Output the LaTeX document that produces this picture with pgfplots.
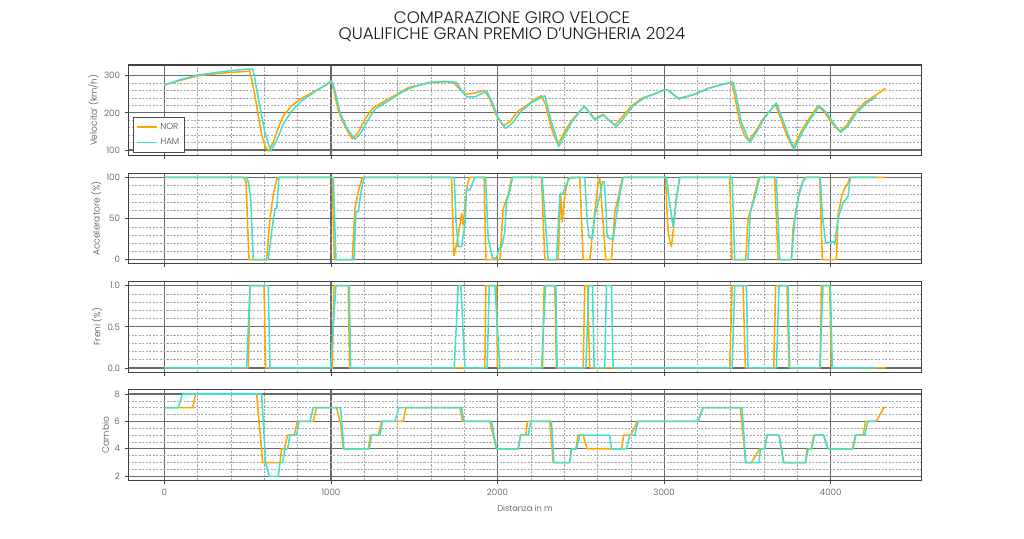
\documentclass[border=0pt]{standalone}
\usepackage{fontspec}
\IfFontExistsTF{Poppins Light}{\setmainfont{Poppins Light}}{\setmainfont{Poppins}}
\usepackage{pgfplots}
\pgfplotsset{compat=1.18}
\definecolor{nor}{HTML}{FFA500}
\definecolor{ham}{HTML}{40E0D0}
\definecolor{majg}{HTML}{6A6A6A}
\definecolor{ming}{HTML}{A8A8A8}
\pgfplotsset{
 panel/.style={scale only axis, width=571.25pt, height=65.16pt, xmin=-216.5, xmax=4546.5,
  xtick={0,1000,2000,3000,4000}, minor x tick num=4,
  grid=both, major grid style={majg, line width=0.85pt},
  minor grid style={ming, line width=0.4pt, dash pattern=on 1.5pt off 1pt},
  axis line style={draw=black!75, line width=0.75pt},
  tick align=outside, tick pos=left, major tick length=2.5pt, minor tick length=0pt,
  tick style={black!70, line width=0.6pt},
  ticklabel style={font=\fontsize{6.3}{7}\selectfont, text=black!70},
  label style={font=\fontsize{6}{7}\selectfont, text=black!70},
  ylabel style={font=\fontsize{6.5}{7}\selectfont},
  ylabel shift=-3pt,
  /pgf/number format/assume math mode=true, /pgf/number format/1000 sep={},
  every axis plot/.append style={line width=1.1pt, line join=round},
  anchor=north west},
}
\begin{document}
\begin{tikzpicture}
\path[use as bounding box] (0,0) rectangle (737.28pt,388.08pt);
\node[font=\fontsize{12}{14}\selectfont, text=black!90] at (368.64pt,375.6pt) {COMPARAZIONE GIRO VELOCE};
\node[font=\fontsize{12}{14}\selectfont, text=black!90] at (368.64pt,362.9pt) {QUALIFICHE GRAN PREMIO D'UNGHERIA 2024};

% Speed
\begin{axis}[panel, at={(92.38pt,341.28pt)}, ymin=85, ymax=329, ytick={100,200,300}, minor y tick num=4,
  xticklabels={}, ylabel={Velocita' (km/h)},
  legend style={at={(0.006,0.425)}, anchor=north west, draw=black!70, line width=0.6pt, fill=white,
   font=\fontsize{6.3}{7}\selectfont, text=black!70, cells={anchor=west}, row sep=1pt, inner sep=2pt},
  legend image code/.code={\draw[#1] (0cm,0cm) -- (0.5cm,0cm);}]
\addplot[nor] coordinates {(0,275) (100,288) (200,300) (300,305) (400,309) (500,312) (512,313) (524,291) (544,246) (564,192) (584,142) (604,111) (624,97) (654,120) (684,160) (714,192) (764,219) (824,239) (904,259) (964,273) (1004,285) (1024,246) (1044,205) (1074,174) (1104,147) (1128,130) (1164,147) (1204,183) (1254,214) (1324,232) (1424,257) (1464,268) (1584,280) (1684,284) (1734,282) (1804,250) (1864,253) (1920,261) (1954,237) (1994,192) (2034,165) (2074,176) (2124,205) (2184,223) (2224,237) (2264,246) (2290,220) (2314,174) (2344,133) (2364,115) (2394,142) (2444,179) (2494,205) (2520,217) (2554,201) (2584,183) (2610,190) (2634,196) (2674,178) (2704,167) (2754,192) (2804,219) (2874,241) (2934,250) (3000,262) (3020,262) (3088,239) (3184,250) (3264,266) (3344,276) (3404,282) (3424,246) (3454,174) (3484,138) (3508,125) (3544,147) (3594,183) (3634,205) (3668,223) (3694,192) (3734,142) (3774,106) (3824,151) (3874,187) (3924,219) (3964,201) (4004,174) (4054,151) (4094,165) (4144,201) (4204,228) (4264,246) (4330,266)};
\addlegendentry{NOR}
\addplot[ham] coordinates {(0,275) (100,290) (200,302) (300,308) (400,314) (500,318) (530,318) (540,300) (554,264) (580,201) (604,147) (638,97) (674,125) (714,170) (764,205) (824,232) (904,257) (964,274) (1004,286) (1024,260) (1054,201) (1094,160) (1144,129) (1174,142) (1214,174) (1264,210) (1344,232) (1424,255) (1484,268) (1584,282) (1684,285) (1754,282) (1784,260) (1814,243) (1864,243) (1934,259) (1964,232) (2004,187) (2048,158) (2084,170) (2144,205) (2204,228) (2284,246) (2324,174) (2344,147) (2368,109) (2394,131) (2444,174) (2520,219) (2584,181) (2634,194) (2714,163) (2764,189) (2814,219) (2884,241) (3000,261) (3020,262) (3088,237) (3184,250) (3264,266) (3344,276) (3414,283) (3434,246) (3464,174) (3514,120) (3554,147) (3604,187) (3674,226) (3704,192) (3744,142) (3780,102) (3834,151) (3884,187) (3934,219) (3974,201) (4014,174) (4060,147) (4104,165) (4154,199) (4214,226) (4274,243)};
\addlegendentry{HAM}
\end{axis}

% Throttle
\begin{axis}[panel, at={(92.38pt,263.30pt)}, ymin=-5, ymax=105, ytick={0,50,100}, minor y tick num=4,
  xticklabels={}, ylabel={Acceleratore (\%)}]
\addplot[nor] coordinates {(0,100) (474,100) (490,95) (508,0) (614,0) (634,50) (654,79) (674,97) (684,100) (1008,100) (1020,0) (1128,0) (1144,62) (1164,83) (1184,97) (1190,100) (1724,100) (1738,5) (1754,18) (1774,42) (1784,56) (1794,42) (1804,66) (1814,85) (1830,100) (1920,100) (1930,0) (2014,0) (2034,62) (2064,79) (2084,99) (2090,100) (2264,100) (2284,0) (2364,0) (2378,81) (2388,46) (2404,78) (2424,99) (2494,100) (2514,0) (2554,0) (2584,58) (2604,93) (2614,99) (2650,0) (2684,0) (2704,58) (2724,75) (2750,100) (3008,100) (3024,34) (3034,22) (3044,16) (3054,34) (3074,75) (3094,100) (3394,100) (3408,0) (3490,0) (3504,50) (3534,71) (3564,97) (3570,100) (3664,100) (3684,0) (3764,0) (3774,38) (3794,62) (3814,85) (3844,100) (3934,100) (3950,0) (4034,0) (4044,54) (4064,75) (4084,87) (4104,93) (4114,100) (4330,100)};
\addplot[ham] coordinates {(0,100) (490,100) (504,95) (518,75) (534,0) (624,0) (644,34) (664,62) (674,62) (688,100) (1014,100) (1030,0) (1138,0) (1150,58) (1164,58) (1178,79) (1198,100) (1740,100) (1750,50) (1764,16) (1784,16) (1804,42) (1814,85) (1834,85) (1864,100) (1928,100) (1944,26) (1970,2) (1994,2) (2010,14) (2024,15) (2044,34) (2054,71) (2074,83) (2090,100) (2268,100) (2284,54) (2304,0) (2354,0) (2374,79) (2394,81) (2410,90) (2434,100) (2524,100) (2538,46) (2550,27) (2570,26) (2584,54) (2614,77) (2630,95) (2640,95) (2650,67) (2658,28) (2674,26) (2694,24) (2714,54) (2734,79) (2754,100) (3014,100) (3034,67) (3054,40) (3074,75) (3094,100) (3408,100) (3424,0) (3504,0) (3518,58) (3544,75) (3574,100) (3674,100) (3694,0) (3764,0) (3784,46) (3804,75) (3834,95) (3854,100) (3938,100) (3950,54) (3970,20) (3994,21) (4014,22) (4024,19) (4044,50) (4074,69) (4104,77) (4118,100) (4274,100)};
\end{axis}

% Brake
\begin{axis}[panel, at={(92.38pt,185.33pt)}, ymin=-0.05, ymax=1.05, ytick={0,0.5,1}, minor y tick num=4,
  yticklabel style={/pgf/number format/.cd, fixed, fixed zerofill, precision=1},
  xticklabels={}, ylabel={Freni (\%)}]
\addplot[nor] coordinates {(0,0) (504,0) (514,1) (598,1) (608,0) (1008,0) (1018,1) (1104,1) (1112,0) (1924,0) (1930,1) (1994,1) (2000,0) (2270,0) (2280,1) (2344,1) (2354,0) (2514,0) (2524,1) (2540,1) (2554,0) (3394,0) (3408,1) (3474,1) (3488,0) (3658,0) (3670,1) (3738,1) (3750,0) (3938,0) (3944,1) (3994,1) (4004,0) (4330,0)};
\addplot[ham] coordinates {(0,0) (494,0) (514,1) (624,1) (634,0) (998,0) (1030,1) (1110,1) (1118,0) (1740,0) (1764,1) (1780,1) (1804,0) (1938,0) (1950,1) (1984,1) (2014,0) (2264,0) (2288,1) (2350,1) (2358,0) (2530,0) (2548,1) (2570,1) (2580,0) (2644,0) (2654,1) (2684,1) (2694,0) (3408,0) (3424,1) (3494,1) (3504,0) (3674,0) (3690,1) (3744,1) (3754,0) (3934,0) (3954,1) (3998,1) (4010,0) (4274,0)};
\end{axis}

% Gear
\begin{axis}[panel, at={(92.38pt,107.35pt)}, ymin=1.7, ymax=8.3, ytick={2,4,6,8}, minor y tick num=3,
  ylabel={Cambio}, xlabel={Distanza in m}]
\addplot[nor] coordinates {(0,7) (170,7) (188,8) (554,8) (590,3) (694,3) (704,4) (720,4) (740,5) (780,5) (798,6) (894,6) (914,7) (1034,7) (1054,6) (1058,6) (1074,4) (1224,4) (1238,5) (1284,5) (1304,6) (1434,6) (1450,7) (1774,7) (1790,6) (1954,6) (1994,4) (2124,4) (2138,5) (2170,5) (2180,6) (2314,6) (2334,3) (2434,3) (2444,4) (2470,4) (2484,5) (2514,5) (2538,4) (2744,4) (2758,5) (2800,5) (2840,6) (3204,6) (3234,7) (3458,7) (3490,3) (3524,3) (3574,4) (3604,4) (3618,5) (3690,5) (3718,3) (3850,3) (3858,4) (3884,4) (3898,5) (3958,5) (3984,4) (4130,4) (4150,5) (4194,5) (4210,6) (4274,6) (4318,7) (4330,7)};
\addplot[ham] coordinates {(0,7) (84,7) (108,8) (584,8) (608,3) (630,2) (684,2) (694,3) (710,3) (724,4) (740,4) (754,5) (794,5) (808,6) (874,6) (894,7) (1058,7) (1078,4) (1230,4) (1244,5) (1294,5) (1310,6) (1384,6) (1408,7) (1784,7) (1798,6) (1964,6) (1994,4) (2124,4) (2138,5) (2184,5) (2200,6) (2324,6) (2338,3) (2434,3) (2444,4) (2474,4) (2494,5) (2674,5) (2684,4) (2774,4) (2794,5) (2824,5) (2844,6) (3204,6) (3234,7) (3468,7) (3490,3) (3570,3) (3578,4) (3604,4) (3618,5) (3690,5) (3718,3) (3850,3) (3864,4) (3884,4) (3904,5) (3958,5) (3984,4) (4134,4) (4150,5) (4204,5) (4224,6) (4274,6)};
\end{axis}
\end{tikzpicture}
\end{document}
